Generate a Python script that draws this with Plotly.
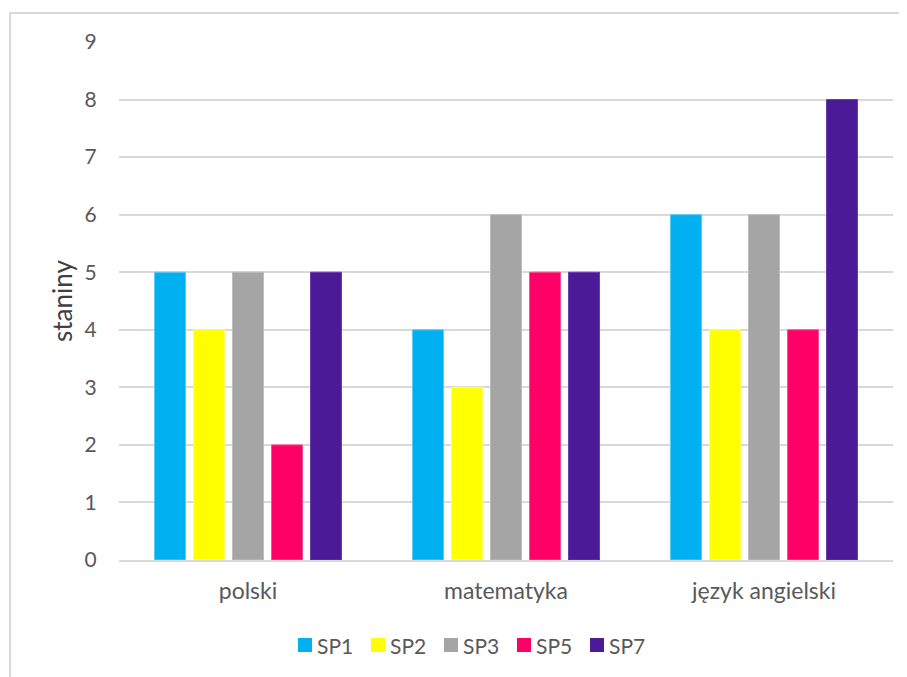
import plotly.graph_objects as go

categories = ["polski", "matematyka", "język angielski"]
series_names = ["SP1", "SP2", "SP3", "SP5", "SP7"]
sp1 = [5, 4, 6]
sp2 = [4, 3, 4]
sp3 = [5, 6, 6]
sp5 = [2, 5, 4]
sp7 = [5, 5, 8]
y_ticks = [0, 1, 2, 3, 4, 5, 6, 7, 8, 9]

colors = ["#00B0F0", "#FFFF00", "#A5A5A5", "#FF0066", "#4A1A97"]
edge = ["#5CCBF5", "#FFFF66", "#BDBDBD", "#FF4D8F", "#6A3AB0"]
FONT = "Lato, 'Open Sans', sans-serif"

# plot area in pixels (for converting legend layout to paper coords)
PL, PW, PB, PH = 119, 774, 560, 518
def px(x):
    return (x - PL) / PW
def py(y):
    return (PB - y) / PH

fig = go.Figure()
for name, vals, c, e in zip(series_names, [sp1, sp2, sp3, sp5, sp7], colors, edge):
    fig.add_trace(go.Bar(x=categories, y=vals, name=name,
                         marker=dict(color=c, line=dict(color=e, width=1))))

shapes = [dict(type="rect", xref="paper", yref="paper", x0=-0.1408, x1=1.05,
               y0=-0.26, y1=1.056, line=dict(color="#D9D9D9", width=2))]
annotations = [dict(text="staniny", xref="paper", yref="paper", x=-0.0736, y=0.5,
                    showarrow=False, textangle=-90, xanchor="center", yanchor="middle",
                    font=dict(size=26, color="#404040"))]

# custom legend (Excel-style compact spacing)
step = 73
for i, (name, c) in enumerate(zip(series_names, colors)):
    x0 = 298 + i * step
    shapes.append(dict(type="rect", xref="paper", yref="paper",
                       x0=px(x0), x1=px(x0 + 14), y0=py(652), y1=py(638),
                       fillcolor=c, line=dict(width=0)))
    annotations.append(dict(text=name, xref="paper", yref="paper",
                            x=px(x0 + 17), y=py(645), xanchor="left", yanchor="middle",
                            showarrow=False, font=dict(size=21, color="#595959")))

fig.update_layout(
    width=907, height=677,
    margin=dict(l=111, r=22, t=34, b=125),
    paper_bgcolor="white", plot_bgcolor="white",
    barmode="group", bargap=0.244, bargroupgap=0.205,
    font=dict(family=FONT, size=21, color="#595959"),
    showlegend=False,
    xaxis=dict(showgrid=False, ticks="outside", ticklen=9, tickcolor="rgba(0,0,0,0)",
               showline=True, linecolor="#D9D9D9", linewidth=2,
               tickfont=dict(size=23, color="#595959")),
    yaxis=dict(range=[0, 9], tickvals=y_ticks, showgrid=True, gridcolor="#D9D9D9",
               gridwidth=1.5, zeroline=False, showline=False,
               ticks="outside", ticklen=17, tickcolor="rgba(0,0,0,0)",
               tickfont=dict(size=21, color="#595959")),
    annotations=annotations,
    shapes=shapes,
)

fig.write_html("out.html")
